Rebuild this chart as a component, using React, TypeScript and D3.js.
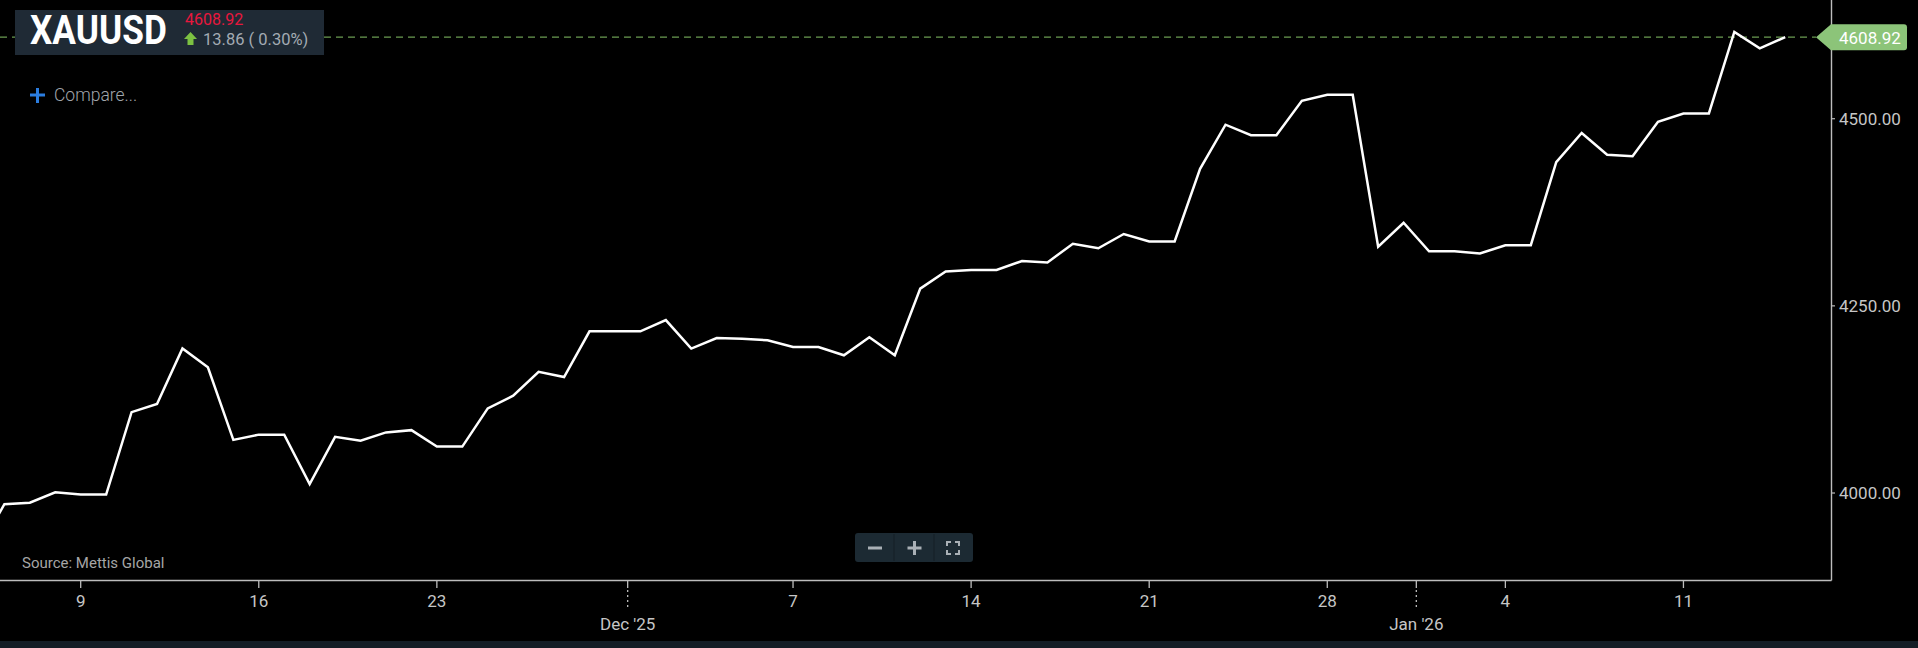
import { useEffect, useRef } from 'react';
import * as d3 from 'd3';

// daily XAUUSD closes
const dates = [
    '2025-11-05', '2025-11-06', '2025-11-07', '2025-11-08', '2025-11-09', '2025-11-10',
    '2025-11-11', '2025-11-12', '2025-11-13', '2025-11-14', '2025-11-15', '2025-11-16',
    '2025-11-17', '2025-11-18', '2025-11-19', '2025-11-20', '2025-11-21', '2025-11-22',
    '2025-11-23', '2025-11-24', '2025-11-25', '2025-11-26', '2025-11-27', '2025-11-28',
    '2025-11-29', '2025-11-30', '2025-12-01', '2025-12-02', '2025-12-03', '2025-12-04',
    '2025-12-05', '2025-12-06', '2025-12-07', '2025-12-08', '2025-12-09', '2025-12-10',
    '2025-12-11', '2025-12-12', '2025-12-13', '2025-12-14', '2025-12-15', '2025-12-16',
    '2025-12-17', '2025-12-18', '2025-12-19', '2025-12-20', '2025-12-21', '2025-12-22',
    '2025-12-23', '2025-12-24', '2025-12-25', '2025-12-26', '2025-12-27', '2025-12-28',
    '2025-12-29', '2025-12-30', '2025-12-31', '2026-01-01', '2026-01-02', '2026-01-03',
    '2026-01-04', '2026-01-05', '2026-01-06', '2026-01-07', '2026-01-08', '2026-01-09',
    '2026-01-10', '2026-01-11', '2026-01-12', '2026-01-13', '2026-01-14', '2026-01-15',
];

const prices = [
    3925, 3985, 3987, 4001, 3998, 3998,
    4108, 4119, 4193, 4168, 4071, 4078,
    4078, 4012, 4075, 4070, 4081, 4084,
    4062, 4062, 4113, 4130, 4162, 4155,
    4216, 4216, 4216, 4231, 4193, 4207,
    4206, 4204, 4195, 4195, 4184, 4208,
    4184, 4273, 4296, 4298, 4298, 4310,
    4308, 4333, 4327, 4346, 4336, 4336,
    4433, 4492, 4478, 4478, 4524, 4532,
    4532, 4329, 4361, 4323, 4323, 4320,
    4331, 4331, 4442, 4481, 4452, 4450,
    4496, 4507, 4507, 4616, 4594, 4608.92,
];

const yTickValues = [4000, 4250, 4500];
const symbol = 'XAUUSD';
const lastPrice = 4608.92;
const change = 13.86;
const changePct = 0.30;

const W = 1918;
const H = 648;

export default function App() {
    const svgRef = useRef<SVGSVGElement>(null);

    useEffect(() => {
        document.body.style.margin = '0';
        document.body.style.background = '#000';
        if (!svgRef.current) return;

        const svg = d3.select(svgRef.current);
        svg.selectAll('*').remove();

        const plot = { left: 0, right: 1831, top: 0, bottom: 580 };
        const font = 'Roboto, "Noto Sans", sans-serif';
        const axisColor = '#bdbdbd';
        const labelColor = '#c6c6c6';

        const parse = d3.utcParse('%Y-%m-%d');
        const data = dates.map((d, i) => ({ date: parse(d) as Date, value: prices[i] }));

        const dayMs = 86400000;
        const anchor = Date.UTC(2025, 10, 9);
        const x = d3.scaleUtc()
            .domain([new Date(anchor - 3.172 * dayMs), new Date(anchor + 68.8 * dayMs)])
            .range([plot.left, plot.right]);

        const y = d3.scaleLinear()
            .domain([3883.8, 4658.6])
            .range([plot.bottom, plot.top]);

        // background
        svg.append('rect').attr('width', W).attr('height', H).attr('fill', '#000');
        svg.append('rect').attr('x', 0).attr('y', 641).attr('width', W).attr('height', 7).attr('fill', '#141d26');

        svg.append('defs').append('clipPath').attr('id', 'plot-clip')
            .append('rect')
            .attr('x', plot.left).attr('y', plot.top)
            .attr('width', plot.right - plot.left).attr('height', plot.bottom - plot.top);

        // last price dashed line
        svg.append('line')
            .attr('x1', 0).attr('x2', 1816)
            .attr('y1', y(lastPrice)).attr('y2', y(lastPrice))
            .attr('stroke', '#6b9c52')
            .attr('stroke-width', 1.3)
            .attr('stroke-dasharray', '7,5');

        // price line
        const line = d3.line<typeof data[0]>()
            .x(d => x(d.date))
            .y(d => y(d.value));

        svg.append('path')
            .datum(data)
            .attr('clip-path', 'url(#plot-clip)')
            .attr('d', line)
            .attr('fill', 'none')
            .attr('stroke', '#ffffff')
            .attr('stroke-width', 2.5)
            .attr('stroke-linejoin', 'miter');

        // axes lines
        svg.append('line')
            .attr('x1', 0).attr('x2', plot.right + 0.5)
            .attr('y1', plot.bottom + 0.5).attr('y2', plot.bottom + 0.5)
            .attr('stroke', axisColor).attr('stroke-width', 1.4);
        svg.append('line')
            .attr('x1', plot.right + 0.5).attr('x2', plot.right + 0.5)
            .attr('y1', 0).attr('y2', plot.bottom + 0.5)
            .attr('stroke', axisColor).attr('stroke-width', 1.4);

        // x ticks: month boundaries sit half a day before the 1st
        const monthTicks = d3.utcMonth.range(new Date(Date.UTC(2025, 11, 1)), x.domain()[1])
            .map(d => ({ date: d, pos: x(new Date(+d - dayMs / 2)) }));
        const weekTicks = d3.utcSunday.range(x.domain()[0], x.domain()[1])
            .filter(d => !monthTicks.some(m => Math.abs(+m.date - +d) < 1.5 * dayMs));

        const xAxis = svg.append('g').attr('font-family', font);
        weekTicks.forEach(d => {
            const px = x(d);
            xAxis.append('line')
                .attr('x1', px).attr('x2', px)
                .attr('y1', plot.bottom).attr('y2', plot.bottom + 8)
                .attr('stroke', axisColor).attr('stroke-width', 1.3);
            xAxis.append('text')
                .attr('x', px).attr('y', plot.bottom + 27)
                .attr('text-anchor', 'middle')
                .attr('font-size', 17)
                .attr('fill', labelColor)
                .text(d3.utcFormat('%-d')(d));
        });
        monthTicks.forEach(m => {
            xAxis.append('line')
                .attr('x1', m.pos).attr('x2', m.pos)
                .attr('y1', plot.bottom).attr('y2', plot.bottom + 8)
                .attr('stroke', axisColor).attr('stroke-width', 1.3);
            xAxis.append('line')
                .attr('x1', m.pos).attr('x2', m.pos)
                .attr('y1', plot.bottom + 10).attr('y2', plot.bottom + 29)
                .attr('stroke', axisColor).attr('stroke-width', 1.3)
                .attr('stroke-dasharray', '2,3');
            xAxis.append('text')
                .attr('x', m.pos).attr('y', plot.bottom + 50)
                .attr('text-anchor', 'middle')
                .attr('font-size', 17)
                .attr('fill', labelColor)
                .text(d3.utcFormat("%b '%y")(m.date));
        });

        // y ticks on the right
        const yAxis = svg.append('g').attr('font-family', font);
        yTickValues.forEach(v => {
            yAxis.append('line')
                .attr('x1', plot.right).attr('x2', plot.right + 4)
                .attr('y1', y(v)).attr('y2', y(v))
                .attr('stroke', axisColor).attr('stroke-width', 1.2);
            yAxis.append('text')
                .attr('x', plot.right + 8).attr('y', y(v) + 6)
                .attr('font-size', 17)
                .attr('fill', labelColor)
                .text(d3.format('.2f')(v));
        });

        // last price tag
        const ty = y(lastPrice);
        svg.append('path')
            .attr('d', `M1816,${ty} L1831,${ty - 13} L1904,${ty - 13} Q1907,${ty - 13} 1907,${ty - 10} L1907,${ty + 10} Q1907,${ty + 13} 1904,${ty + 13} L1831,${ty + 13} Z`)
            .attr('fill', '#8cc479');
        svg.append('text')
            .attr('x', 1839).attr('y', ty + 6.5)
            .attr('font-family', font).attr('font-size', 17)
            .attr('fill', '#ffffff')
            .text(d3.format('.2f')(lastPrice));

        // header box
        const header = svg.append('g').attr('font-family', font);
        header.append('rect')
            .attr('x', 15).attr('y', 10).attr('width', 309).attr('height', 45)
            .attr('fill', '#1f2a35');
        // condensed bold symbol, narrowed with a horizontal scale
        header.append('text')
            .attr('transform', 'translate(30,44) scale(0.86,1)')
            .attr('font-size', 41).attr('font-weight', 700)
            .attr('fill', '#ffffff')
            .text(symbol);
        header.append('text')
            .attr('x', 185).attr('y', 25)
            .attr('font-size', 16)
            .attr('fill', '#e8173d')
            .text(d3.format('.2f')(lastPrice));
        header.append('path')
            .attr('d', 'M190.5,32 L197,39 L193.5,39 L193.5,45 L187.5,45 L187.5,39 L184,39 Z')
            .attr('fill', '#7cc142');
        header.append('text')
            .attr('x', 203).attr('y', 45)
            .attr('font-size', 16.5)
            .attr('fill', '#a3abb3')
            .text(`${d3.format('.2f')(change)} ( ${d3.format('.2f')(changePct)}%)`);

        // compare button
        svg.append('rect').attr('x', 30).attr('y', 93.5).attr('width', 15).attr('height', 3).attr('fill', '#2b7de0');
        svg.append('rect').attr('x', 36).attr('y', 88).attr('width', 3).attr('height', 15).attr('fill', '#2b7de0');
        svg.append('text')
            .attr('x', 54).attr('y', 101)
            .attr('font-family', font).attr('font-size', 17.5).attr('font-weight', 300)
            .attr('fill', '#a0a6ac')
            .text('Compare...');

        // source
        svg.append('text')
            .attr('x', 22).attr('y', 568)
            .attr('font-family', font).attr('font-size', 15)
            .attr('fill', '#a6a6a6')
            .text('Source: Mettis Global');

        // zoom controls
        const zc = svg.append('g');
        zc.append('rect')
            .attr('x', 855).attr('y', 533).attr('width', 118).attr('height', 29).attr('rx', 3)
            .attr('fill', '#1c2a33');
        [894, 934].forEach(dx => {
            zc.append('line').attr('x1', dx).attr('x2', dx).attr('y1', 534).attr('y2', 561)
                .attr('stroke', '#141f27').attr('stroke-width', 1);
        });
        const iconColor = '#a9b0b6';
        zc.append('rect').attr('x', 868).attr('y', 546.5).attr('width', 14).attr('height', 3).attr('fill', iconColor);
        zc.append('rect').attr('x', 907.5).attr('y', 546.5).attr('width', 14).attr('height', 3).attr('fill', iconColor);
        zc.append('rect').attr('x', 913).attr('y', 541).attr('width', 3).attr('height', 14).attr('fill', iconColor);
        const fx = 947, fy = 542, fs = 12;
        zc.append('path')
            .attr('d', `M${fx},${fy + 4} V${fy} H${fx + 4} M${fx + fs - 4},${fy} H${fx + fs} V${fy + 4} M${fx + fs},${fy + fs - 4} V${fy + fs} H${fx + fs - 4} M${fx + 4},${fy + fs} H${fx} V${fy + fs - 4}`)
            .attr('fill', 'none').attr('stroke', iconColor).attr('stroke-width', 2);
    }, []);

    return (
        <div style={{ position: 'fixed', left: 0, top: 0, width: W, height: H, background: '#000' }}>
            <svg ref={svgRef} width={W} height={H} style={{ display: 'block' }}></svg>
        </div>
    );
}
